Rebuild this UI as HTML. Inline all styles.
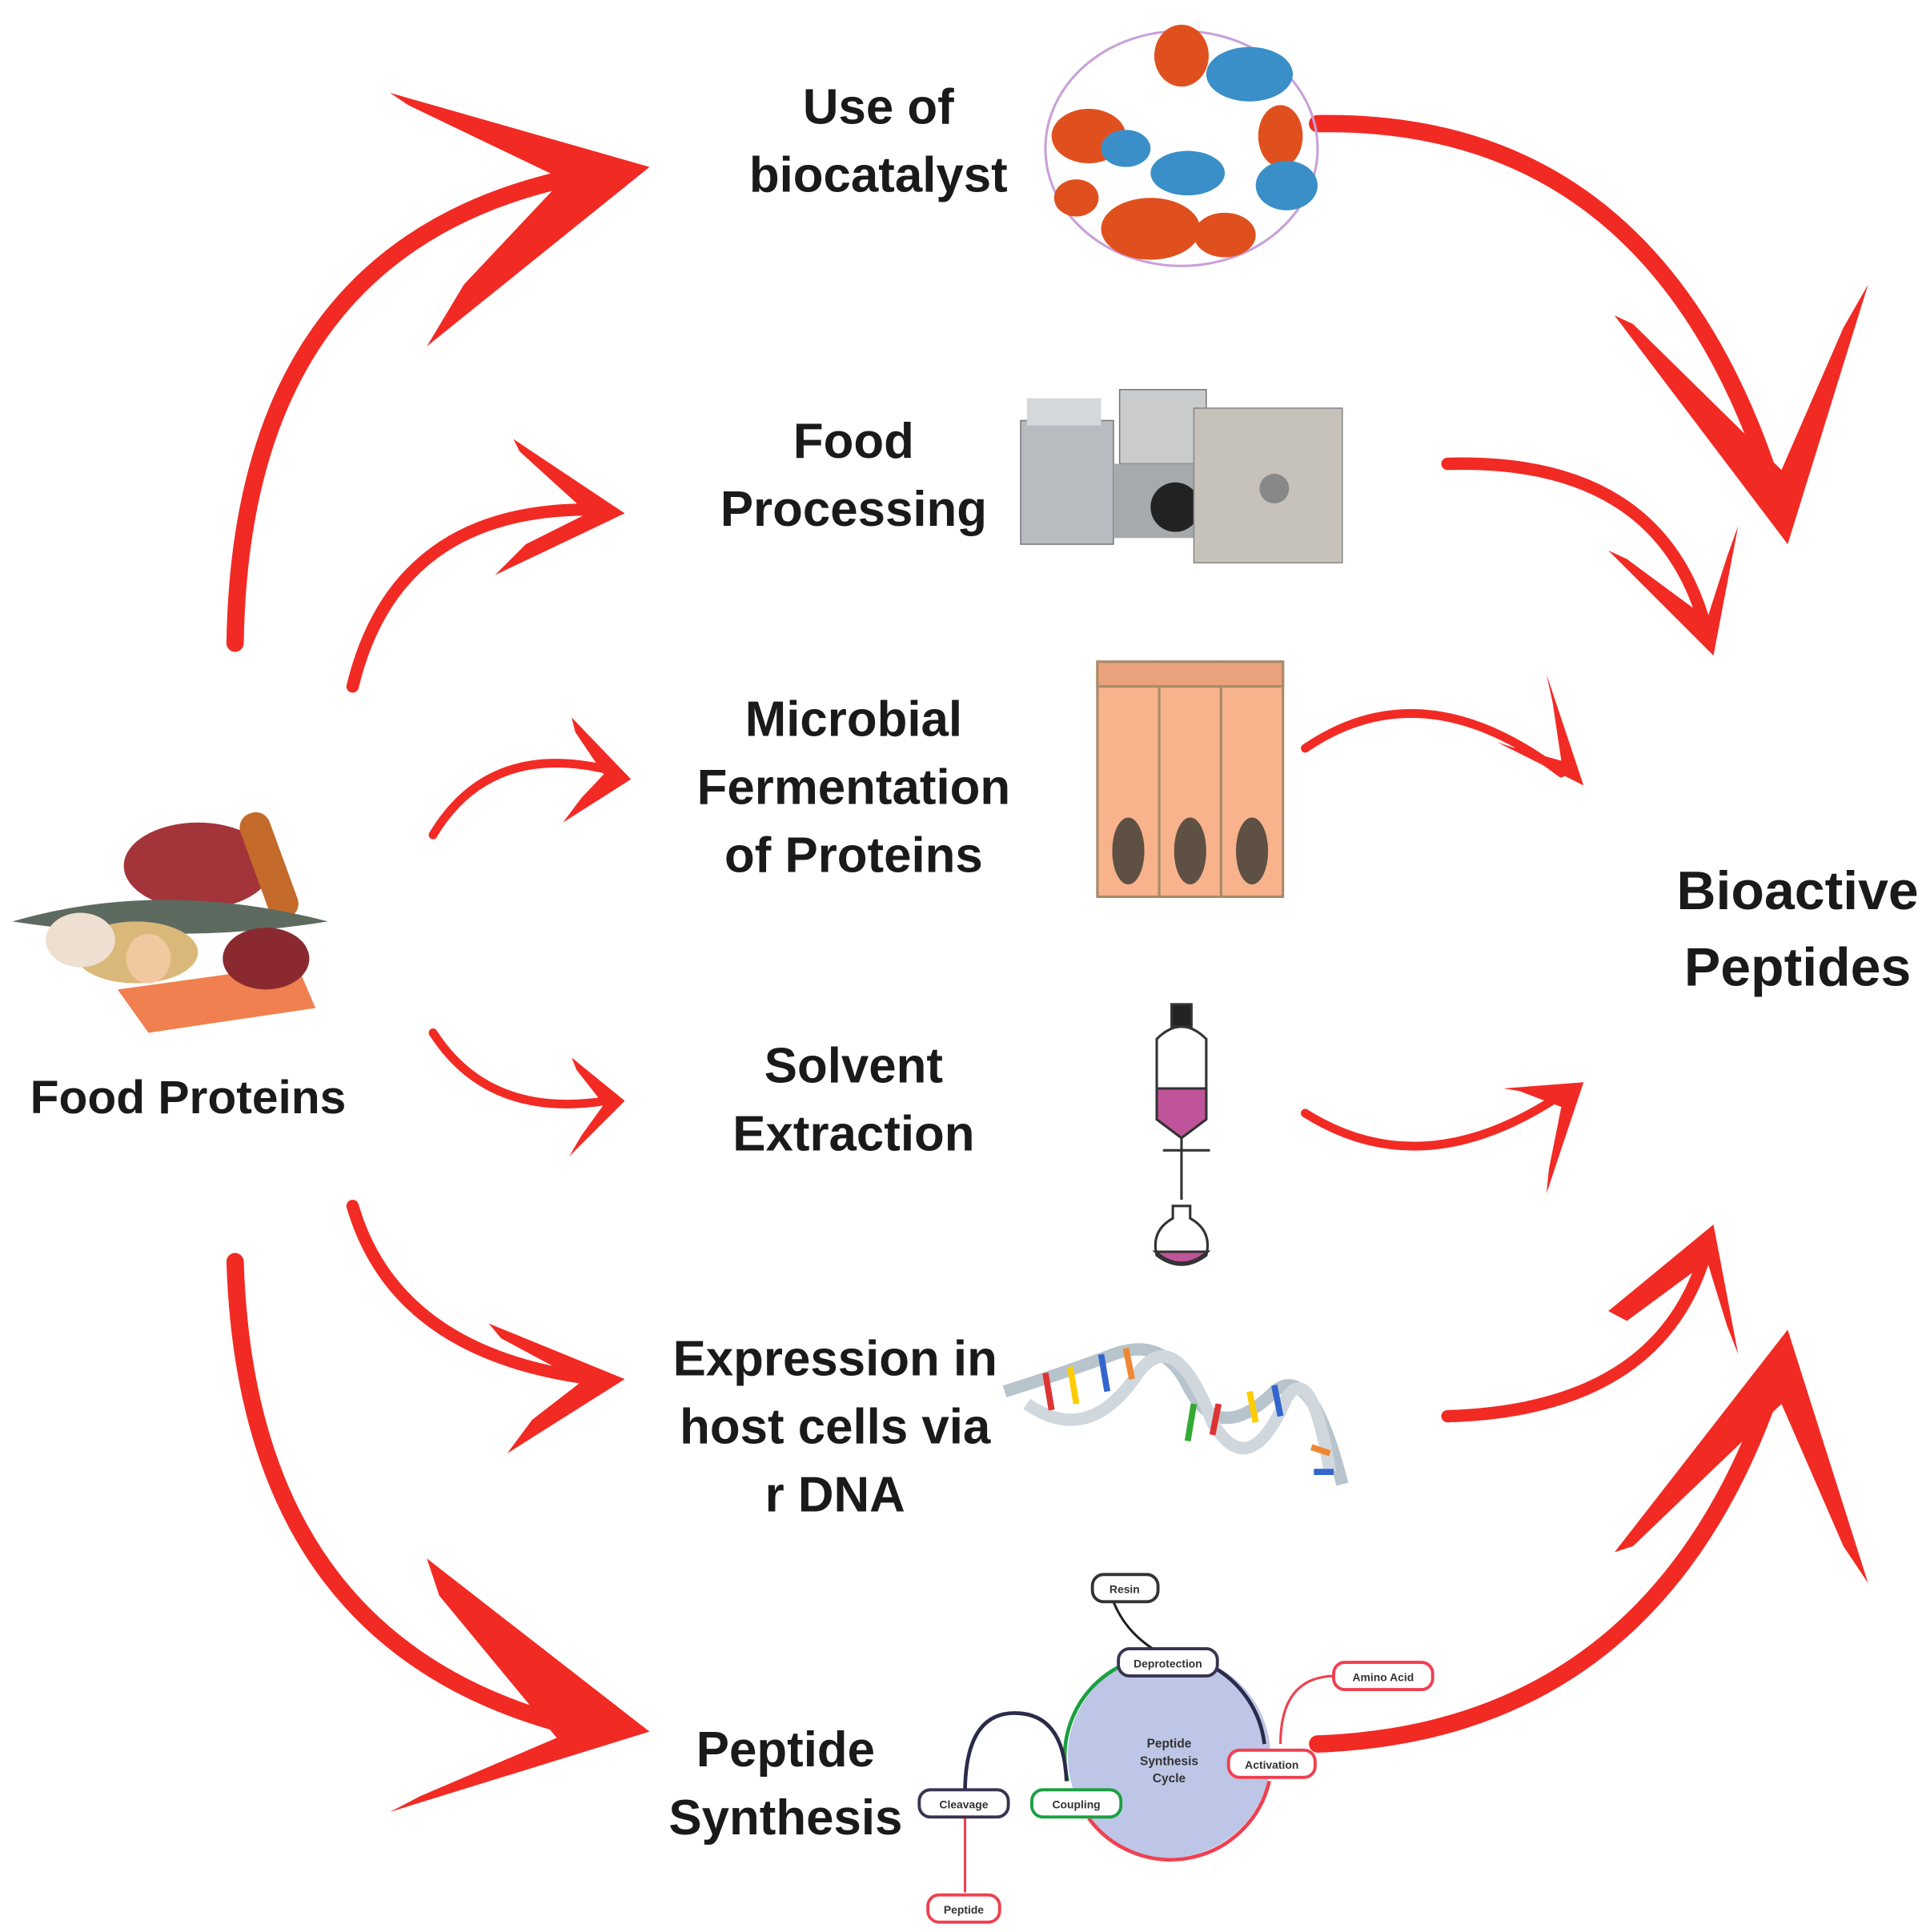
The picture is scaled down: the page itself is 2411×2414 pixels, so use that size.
<!DOCTYPE html>
<html><head><meta charset="utf-8"><style>
html,body{margin:0;padding:0;background:#fff;}
svg{display:block;}
text{font-family:"Liberation Sans",sans-serif;font-weight:bold;fill:#1a1a1a;}
.lbl{font-size:40px;text-anchor:middle;}
.sm{font-size:9px;text-anchor:middle;font-weight:bold;fill:#333;}
.body{fill:none;stroke:#f22a24;stroke-linecap:round;}
.head{fill:#f22a24;}
</style></head><body>
<svg width="2411" height="2414" viewBox="0 0 1560 1562" xmlns="http://www.w3.org/2000/svg">
<rect width="1560" height="1562" fill="#fff"/>
<!-- left arrows -->
<path class="body" stroke-width="14" d="M190,520 Q195,190 480,140"/>
<polygon class="head" points="315,75 525,135 345,280 375,230 455,145 330,85"/>
<path class="body" stroke-width="10" d="M285,555 Q320,410 480,412"/>
<polygon class="head" points="415,355 505,415 400,465 425,440 475,415 420,365"/>
<path class="body" stroke-width="7" d="M350,675 Q395,600 490,622"/>
<polygon class="head" points="462,580 510,630 455,665 470,645 488,626 465,592"/>
<path class="body" stroke-width="7" d="M350,835 Q395,905 490,890"/>
<polygon class="head" points="462,855 505,890 460,935 470,918 488,893 466,865"/>
<path class="body" stroke-width="10" d="M285,975 Q320,1095 480,1115"/>
<polygon class="head" points="395,1070 505,1115 410,1175 430,1148 470,1117 405,1082"/>
<path class="body" stroke-width="14" d="M190,1020 Q200,1340 480,1400"/>
<polygon class="head" points="345,1260 525,1400 315,1465 340,1452 450,1405 355,1290"/>
<!-- right arrows -->
<path class="body" stroke-width="14" d="M1065,100 Q1340,95 1435,400"/>
<polygon class="head" points="1305,255 1445,440 1510,230 1490,265 1440,380 1320,262"/>
<path class="body" stroke-width="10" d="M1170,375 Q1340,370 1378,505"/>
<polygon class="head" points="1300,445 1385,530 1405,425 1396,450 1380,500 1315,452"/>
<path class="body" stroke-width="7" d="M1055,605 Q1150,540 1262,625"/>
<polygon class="head" points="1210,600 1280,635 1250,545 1255,568 1262,615 1222,604"/>
<path class="body" stroke-width="7" d="M1055,900 Q1150,960 1262,885"/>
<polygon class="head" points="1215,880 1280,875 1250,965 1252,945 1262,895 1228,882"/>
<path class="body" stroke-width="10" d="M1170,1145 Q1340,1140 1378,1015"/>
<polygon class="head" points="1300,1060 1385,990 1405,1095 1396,1072 1380,1020 1315,1068"/>
<path class="body" stroke-width="14" d="M1065,1410 Q1340,1400 1435,1115"/>
<polygon class="head" points="1305,1255 1445,1075 1510,1280 1490,1250 1440,1135 1320,1250"/>

<!-- labels -->
<text class="lbl" x="710" y="100">Use of</text>
<text class="lbl" x="710" y="155">biocatalyst</text>
<text class="lbl" x="690" y="370">Food</text>
<text class="lbl" x="690" y="425">Processing</text>
<text class="lbl" x="690" y="595">Microbial</text>
<text class="lbl" x="690" y="650">Fermentation</text>
<text class="lbl" x="690" y="705">of Proteins</text>
<text class="lbl" x="690" y="875">Solvent</text>
<text class="lbl" x="690" y="930">Extraction</text>
<text class="lbl" x="675" y="1112">Expression in</text>
<text class="lbl" x="675" y="1167">host cells via</text>
<text class="lbl" x="675" y="1222">r DNA</text>
<text class="lbl" x="635" y="1428">Peptide</text>
<text class="lbl" x="635" y="1483">Synthesis</text>
<text class="lbl" x="152" y="900" style="font-size:38px">Food Proteins</text>
<text class="lbl" x="1453" y="735" style="font-size:44px">Bioactive</text>
<text class="lbl" x="1453" y="797" style="font-size:44px">Peptides</text>

<!-- protein -->
<g>
<ellipse cx="955" cy="120" rx="110" ry="95" fill="none" stroke="#c9a0d8" stroke-width="2"/>
<g fill="#e0501e"><ellipse cx="880" cy="110" rx="30" ry="22"/><ellipse cx="930" cy="185" rx="40" ry="25"/><ellipse cx="990" cy="190" rx="25" ry="18"/><ellipse cx="955" cy="45" rx="22" ry="25"/><ellipse cx="1035" cy="110" rx="18" ry="25"/><ellipse cx="870" cy="160" rx="18" ry="15"/></g>
<g fill="#3a8fc8"><ellipse cx="1010" cy="60" rx="35" ry="22"/><ellipse cx="1040" cy="150" rx="25" ry="20"/><ellipse cx="960" cy="140" rx="30" ry="18"/><ellipse cx="910" cy="120" rx="20" ry="15"/></g>
</g>
<!-- machines -->
<g>
<rect x="825" y="340" width="75" height="100" fill="#b8bcc0" stroke="#777"/>
<rect x="830" y="322" width="60" height="22" fill="#d5d8da"/>
<rect x="905" y="315" width="70" height="60" fill="#c9cbcc" stroke="#777"/>
<rect x="900" y="375" width="70" height="60" fill="#a7aaad"/>
<circle cx="950" cy="410" r="20" fill="#222"/>
<rect x="965" y="330" width="120" height="125" fill="#c6c2ba" stroke="#888"/>
<circle cx="1030" cy="395" r="12" fill="#888"/>
</g>
<!-- cells -->
<g stroke="#a88a6a" stroke-width="2">
<rect x="887" y="535" width="50" height="190" fill="#f8b38c"/>
<rect x="937" y="535" width="50" height="190" fill="#f8b38c"/>
<rect x="987" y="535" width="50" height="190" fill="#f8b38c"/>
<rect x="887" y="535" width="150" height="20" fill="#e9a27c"/>
</g>
<g fill="#5e5043"><ellipse cx="912" cy="688" rx="13" ry="27"/><ellipse cx="962" cy="688" rx="13" ry="27"/><ellipse cx="1012" cy="688" rx="13" ry="27"/></g>
<!-- funnel -->
<g stroke="#333" stroke-width="2">
<rect x="947" y="812" width="16" height="18" fill="#222"/>
<path d="M935,840 Q955,820 975,840 L975,905 L955,920 L935,905 Z" fill="#fff"/>
<path d="M935,880 L975,880 L975,905 L955,920 L935,905 Z" fill="#c0549a"/>
<line x1="955" y1="920" x2="955" y2="970"/>
<line x1="940" y1="930" x2="978" y2="930"/>
<path d="M948,975 L962,975 L962,985 Q980,995 975,1015 Q955,1030 935,1015 Q930,995 948,985 Z" fill="#fff"/>
<path d="M934,1012 L976,1012 Q955,1030 934,1012 Z" fill="#c0549a"/>
</g>
<!-- DNA -->
<g fill="none" stroke-width="10">
<path d="M812,1125 Q860,1110 900,1095 Q940,1080 960,1120 Q985,1170 1030,1125 Q1060,1100 1085,1200" stroke="#b8c4cc"/>
<path d="M830,1135 Q880,1170 920,1110 Q950,1070 980,1150 Q1010,1200 1040,1130 Q1060,1100 1075,1190" stroke="#d0d8de"/>
</g>
<g stroke-width="5"><line x1="845" y1="1110" x2="850" y2="1140" stroke="#d33"/><line x1="865" y1="1105" x2="870" y2="1135" stroke="#fc0"/><line x1="890" y1="1095" x2="895" y2="1125" stroke="#36c"/><line x1="910" y1="1090" x2="915" y2="1115" stroke="#e83"/><line x1="965" y1="1135" x2="960" y2="1165" stroke="#3a3"/><line x1="985" y1="1135" x2="980" y2="1160" stroke="#d33"/><line x1="1010" y1="1125" x2="1015" y2="1150" stroke="#fc0"/><line x1="1030" y1="1120" x2="1035" y2="1145" stroke="#36c"/><line x1="1060" y1="1170" x2="1075" y2="1175" stroke="#e83"/><line x1="1062" y1="1190" x2="1078" y2="1190" stroke="#36c"/></g>
<!-- food -->
<g>
<ellipse cx="160" cy="700" rx="60" ry="35" fill="#a3343a"/>
<rect x="205" y="655" width="25" height="90" rx="12" fill="#c46a2a" transform="rotate(-20 217 700)"/>
<path d="M10,745 Q130,710 265,745 Q140,765 10,745 Z" fill="#5d6a60"/>
<ellipse cx="110" cy="770" rx="50" ry="25" fill="#d9b87a"/>
<ellipse cx="120" cy="775" rx="18" ry="20" fill="#f2c8a0"/>
<ellipse cx="65" cy="760" rx="28" ry="22" fill="#ede0d0"/>
<path d="M95,800 L240,780 L255,815 L120,835 Z" fill="#f08050"/>
<ellipse cx="215" cy="775" rx="35" ry="25" fill="#8a2a30"/>
</g>
<!-- peptide cycle -->
<g>
<circle cx="945" cy="1420" r="82" fill="#bdc6e6"/>
<path d="M863,1440 A82,82 0 0 1 910,1345" fill="none" stroke="#1aa040" stroke-width="3"/>
<path d="M975,1345 A82,82 0 0 1 1022,1410" fill="none" stroke="#2a2a4a" stroke-width="3"/>
<path d="M1026,1440 A82,82 0 0 1 880,1470" fill="none" stroke="#f04050" stroke-width="3"/>
<path d="M862,1440 Q860,1385 820,1385 Q780,1385 780,1450" fill="none" stroke="#2a2a4a" stroke-width="3"/>
<path d="M1080,1355 Q1035,1355 1035,1410" fill="none" stroke="#f04050" stroke-width="2"/>
<path d="M900,1295 Q910,1320 935,1335" fill="none" stroke="#222" stroke-width="2"/>
<line x1="780" y1="1468" x2="780" y2="1530" stroke="#f04050" stroke-width="2"/>
<g fill="#fff" stroke-width="2.5">
<rect x="883" y="1273" width="53" height="22" rx="9" stroke="#333"/>
<rect x="904" y="1333" width="80" height="22" rx="9" stroke="#3a3350"/>
<rect x="1078" y="1344" width="80" height="22" rx="9" stroke="#f04050"/>
<rect x="993" y="1415" width="70" height="22" rx="9" stroke="#f04050"/>
<rect x="834" y="1447" width="72" height="22" rx="9" stroke="#1aa040"/>
<rect x="743" y="1447" width="72" height="22" rx="9" stroke="#3a3350"/>
<rect x="750" y="1532" width="58" height="22" rx="9" stroke="#f04050"/>
</g>
<text class="sm" x="909" y="1288">Resin</text>
<text class="sm" x="944" y="1348">Deprotection</text>
<text class="sm" x="1118" y="1359">Amino Acid</text>
<text class="sm" x="1028" y="1430">Activation</text>
<text class="sm" x="870" y="1462">Coupling</text>
<text class="sm" x="779" y="1462">Cleavage</text>
<text class="sm" x="779" y="1547">Peptide</text>
<text class="sm" x="945" y="1413" style="font-size:10px">Peptide</text>
<text class="sm" x="945" y="1427" style="font-size:10px">Synthesis</text>
<text class="sm" x="945" y="1441" style="font-size:10px">Cycle</text>
</g>
</svg>
</body></html>
